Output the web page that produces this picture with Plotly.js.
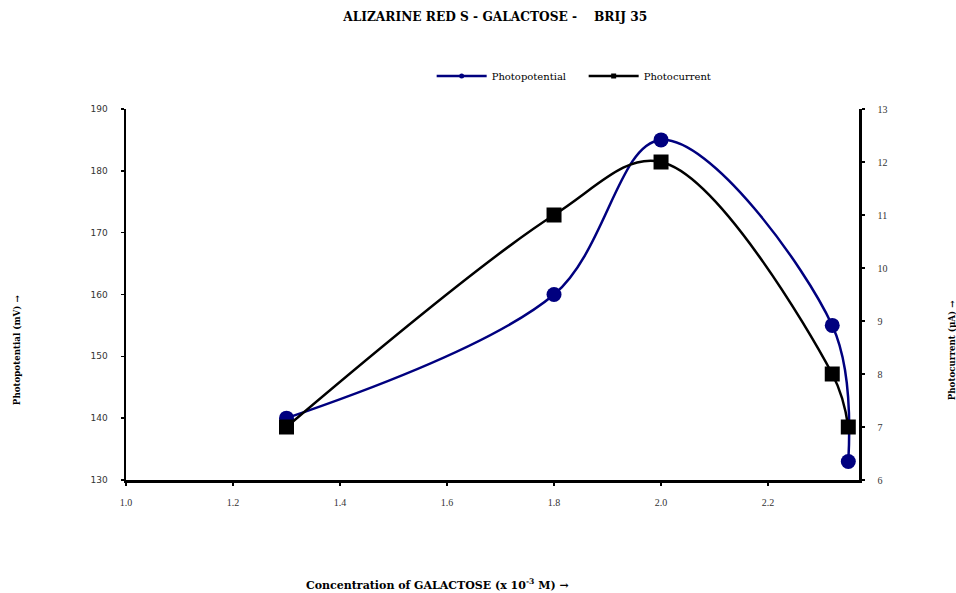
<!DOCTYPE html>
<html>
<head>
<meta charset="utf-8">
<script src="https://cdn.plot.ly/plotly-3.0.1.min.js"></script>
<style>
  html, body { margin: 0; padding: 0; background: #ffffff; }
  #chart { width: 956px; height: 593px; }
</style>
</head>
<body>
<div id="chart"></div>
<script>
// Galactose concentration (x 10^-3 M)
const concentration = [1.3, 1.8, 2.0, 2.32, 2.35];
// Photopotential (mV), left axis
const photopotential = [140, 160, 185, 155, 133];
// Photocurrent (µA), right axis
const photocurrent = [7, 11, 12, 8, 7];

const xTicks = [1.0, 1.2, 1.4, 1.6, 1.8, 2.0, 2.2];
const xTickText = ['1.0', '1.2', '1.4', '1.6', '1.8', '2.0', '2.2'];
const leftTicks = [130, 140, 150, 160, 170, 180, 190];
const rightTicks = [6, 7, 8, 9, 10, 11, 12, 13];

const navy = '#00007f';
const black = '#000000';

const traces = [
  {
    x: concentration, y: photopotential, yaxis: 'y', type: 'scatter', mode: 'lines+markers',
    line: { color: navy, width: 2.5, shape: 'spline', smoothing: 1 },
    marker: { color: navy, size: 15, symbol: 'circle' },
    showlegend: false, hoverinfo: 'skip'
  },
  {
    x: concentration, y: photocurrent, yaxis: 'y2', type: 'scatter', mode: 'lines+markers',
    line: { color: black, width: 2.5, shape: 'spline', smoothing: 1 },
    marker: { color: black, size: 15, symbol: 'square' },
    showlegend: false, hoverinfo: 'skip'
  },
  // legend entries with small markers
  {
    x: [null], y: [null], type: 'scatter', mode: 'lines+markers', name: 'Photopotential',
    line: { color: navy, width: 2.5 }, marker: { color: navy, size: 5, symbol: 'circle' }
  },
  {
    x: [null], y: [null], type: 'scatter', mode: 'lines+markers', name: 'Photocurrent',
    line: { color: black, width: 2.5 }, marker: { color: black, size: 5, symbol: 'square' }
  }
];

const serif = 'DejaVu Serif, serif';

const layout = {
  width: 956, height: 593,
  margin: { l: 126, r: 97, t: 109, b: 113, pad: 0 },
  paper_bgcolor: '#ffffff', plot_bgcolor: '#ffffff',
  title: {
    text: 'ALIZARINE RED S - GALACTOSE -\u00a0\u00a0\u00a0\u00a0BRIJ 35',
    font: { family: serif, size: 12.2, color: '#000', weight: 'bold' },
    x: 0.518, xanchor: 'center', y: 0.971, yanchor: 'middle'
  },
  showlegend: true,
  legend: {
    orientation: 'h', x: 0.417, xanchor: 'left', y: 1.089, yanchor: 'middle',
    font: { family: serif, size: 10, color: '#000' }, itemwidth: 50,
    entrywidth: 87, entrywidthmode: 'pixels',
    bgcolor: 'rgba(0,0,0,0)', tracegroupgap: 0
  },
  xaxis: {
    range: [1.0, 2.37], tickvals: xTicks, ticktext: xTickText,
    showgrid: false, zeroline: false, showline: true, linecolor: '#000', linewidth: 2.5,
    ticks: 'outside', ticklen: 3, tickwidth: 1.5, tickcolor: '#000',
    tickfont: { family: 'Liberation Serif, serif', size: 10, color: '#333' },
    ticklabelstandoff: 8
  },
  yaxis: {
    range: [130, 190], tickvals: leftTicks,
    showgrid: false, zeroline: false, showline: true, linecolor: '#000', linewidth: 2.5,
    ticks: 'outside', ticklen: 3, tickwidth: 1.5, tickcolor: '#000',
    tickfont: { family: 'DejaVu Sans, sans-serif', size: 9, color: '#333' },
    ticklabelstandoff: 11
  },
  yaxis2: {
    range: [6, 13], tickvals: rightTicks, overlaying: 'y', side: 'right',
    showgrid: false, zeroline: false, showline: true, linecolor: '#000', linewidth: 2.5,
    ticks: 'outside', ticklen: 3, tickwidth: 1.5, tickcolor: '#000',
    tickfont: { family: 'Liberation Serif, serif', size: 10, color: '#333' },
    ticklabelstandoff: 11
  },
  annotations: [
    {
      text: 'Concentration of GALACTOSE (x 10<sup>-3</sup> M) \u2192',
      xref: 'paper', yref: 'paper', x: 0.4256, y: -0.283, xanchor: 'center', yanchor: 'middle',
      showarrow: false, font: { family: serif, size: 11, color: '#000', weight: 'bold' }
    },
    {
      text: 'Photopotential (mV) \u2192',
      xref: 'paper', yref: 'paper', x: -0.1487, y: 0.35, xanchor: 'center', yanchor: 'middle',
      textangle: -90, showarrow: false, font: { family: serif, size: 8.7, color: '#000', weight: 'bold' }
    },
    {
      text: 'Photocurrent (\u00b5A) \u2192',
      xref: 'paper', yref: 'paper', x: 1.127, y: 0.35, xanchor: 'center', yanchor: 'middle',
      textangle: -90, showarrow: false, font: { family: serif, size: 8.7, color: '#000', weight: 'bold' }
    }
  ]
};

Plotly.newPlot('chart', traces, layout, { staticPlot: true, displayModeBar: false });
</script>
</body>
</html>
